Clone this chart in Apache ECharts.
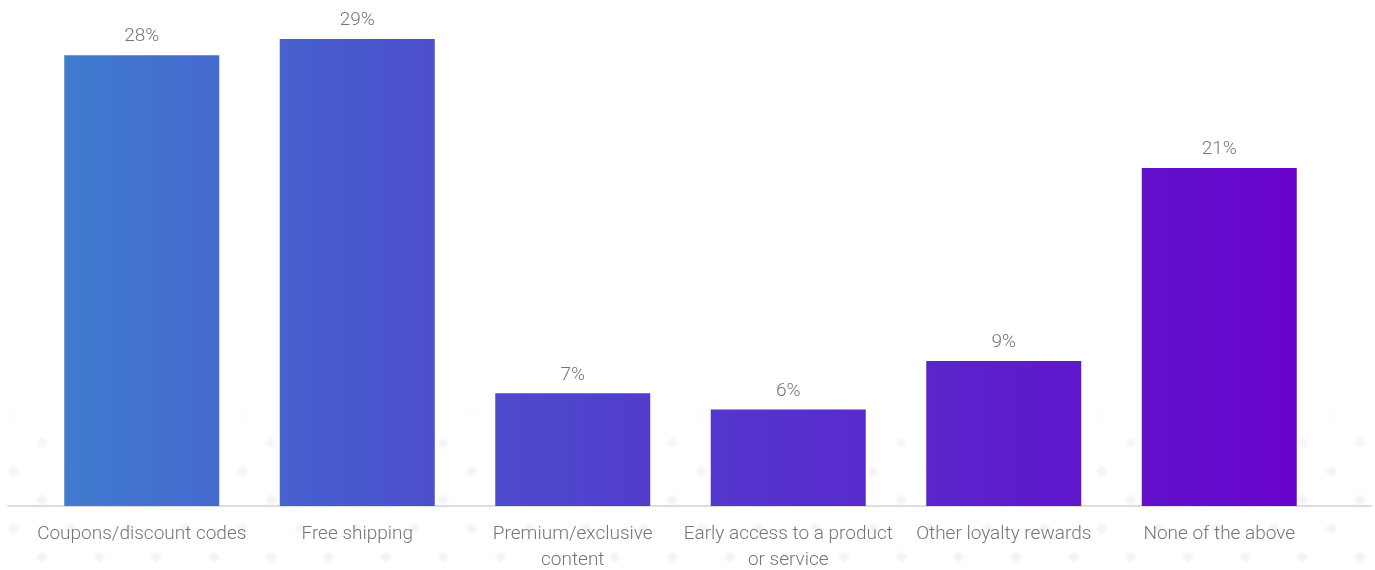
<!DOCTYPE html>
<html>
<head>
<meta charset="utf-8">
<style>
  html, body { margin: 0; padding: 0; background: #fff; }
  #chart { width: 1375px; height: 570px; }
</style>
<script src="https://cdn.jsdelivr.net/npm/echarts@6/dist/echarts.min.js"></script>
</head>
<body>
<div id="chart"></div>
<script>
// Survey answers: share of respondents per incentive
const categories = [
  'Coupons/discount codes',
  'Free shipping',
  'Premium/exclusive\ncontent',
  'Early access to a product\nor service',
  'Other loyalty rewards',
  'None of the above'
];
const shares = [28, 29, 7, 6, 9, 21];

const W = 1375, H = 570;

// Faint, soft diamond lattice behind the lower part of the chart
function diamondLayer() {
  const c = document.createElement('canvas');
  c.width = W; c.height = H;
  const ctx = c.getContext('2d');
  ctx.filter = 'blur(1.2px)';
  const dx = 57.3, dy = 28.5;
  for (let r = 0; r < 7; r++) {
    const y = 414.5 + r * dy;
    const fade = Math.max(0, Math.min(1, (y - 405) / 45));
    const off = (r % 2 === 0) ? -dx / 2 : 0;
    for (let x = 42 + off; x < W + dx; x += dx) {
      ctx.fillStyle = 'rgba(220,220,220,' + (0.32 * fade) + ')';
      ctx.beginPath();
      ctx.moveTo(x, y - 6);
      ctx.lineTo(x + 6, y);
      ctx.lineTo(x, y + 6);
      ctx.lineTo(x - 6, y);
      ctx.closePath();
      ctx.fill();
    }
  }
  return c;
}

const chart = echarts.init(document.getElementById('chart'), null, { renderer: 'canvas' });

const barFill = new echarts.graphic.LinearGradient(34, 0, 1327, 0, [
  { offset: 0.0, color: '#3f80cf' },
  { offset: 0.3, color: '#4b50cd' },
  { offset: 0.7, color: '#5a24cc' },
  { offset: 1.0, color: '#6900cc' }
], true);

chart.setOption({
  backgroundColor: '#ffffff',
  animation: false,
  textStyle: { fontFamily: 'Roboto, "Noto Sans", sans-serif' },
  graphic: [{
    type: 'image',
    z: -10,
    silent: true,
    left: 0, top: 0,
    style: { image: diamondLayer(), width: W, height: H }
  }],
  grid: [
    { left: 34, right: 48, top: 23, bottom: 64, outerBoundsMode: 'none' },
    { left: 8, right: 4, top: 23, bottom: 64, outerBoundsMode: 'none' }
  ],
  xAxis: [
    {
      type: 'category',
      gridIndex: 0,
      data: categories,
      axisLine: { show: false },
      axisTick: { show: false },
      axisLabel: {
        margin: 15,
        color: '#757575',
        fontSize: 19,
        fontWeight: 300,
        lineHeight: 26,
        interval: 0
      }
    },
    {
      type: 'value',
      gridIndex: 1,
      min: 0, max: 1,
      axisLine: { show: true, lineStyle: { color: '#dddddd', width: 2 } },
      axisTick: { show: false },
      axisLabel: { show: false },
      splitLine: { show: false }
    }
  ],
  yAxis: [
    { type: 'value', gridIndex: 0, min: 0, max: 30, show: false, splitLine: { show: false } },
    { type: 'value', gridIndex: 1, min: 0, max: 1, show: false, splitLine: { show: false } }
  ],
  series: [{
    type: 'bar',
    xAxisIndex: 0,
    yAxisIndex: 0,
    data: shares,
    barWidth: 155,
    itemStyle: { color: barFill },
    label: {
      show: true,
      position: 'top',
      distance: 9,
      formatter: '{c}%',
      color: '#757575',
      fontSize: 19,
      fontWeight: 300
    },
    z: 3
  }]
});
</script>
</body>
</html>
